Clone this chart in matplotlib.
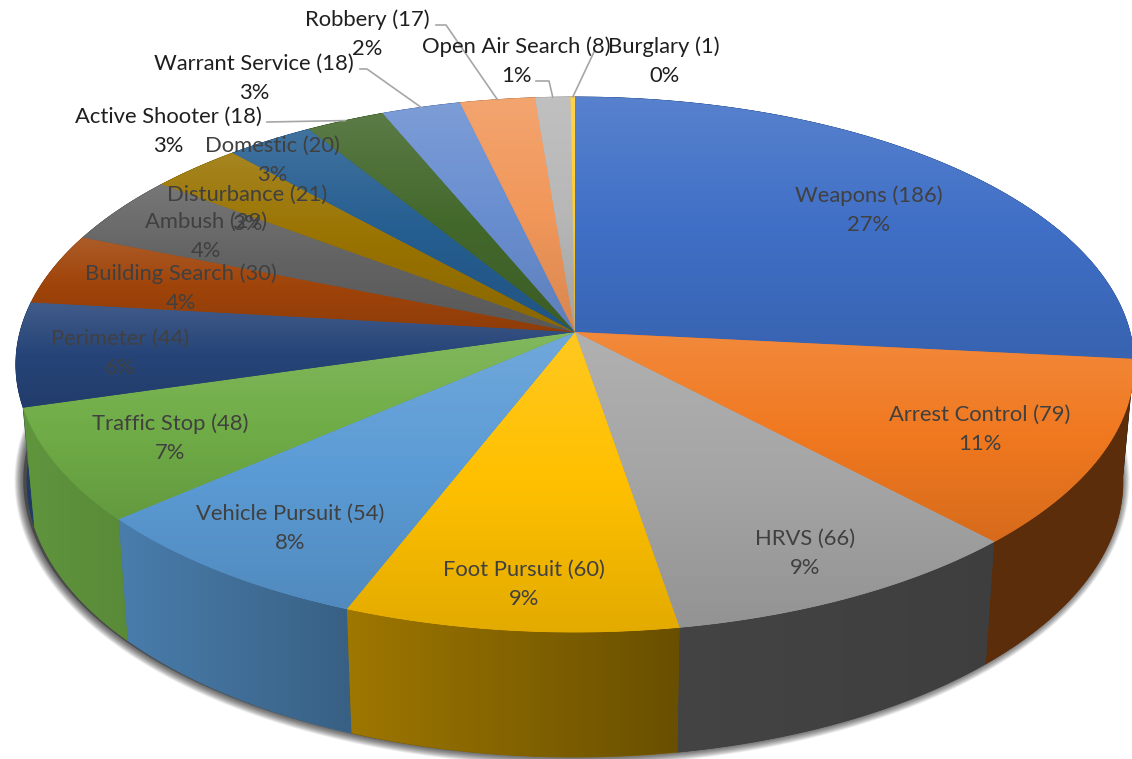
import numpy as np
import matplotlib
matplotlib.use('Agg')
import matplotlib.pyplot as plt
from matplotlib.colors import to_rgb
from matplotlib.patches import Polygon

plt.rcParams['font.family'] = ['Lato', 'DejaVu Sans']

categories = ['Weapons', 'Arrest Control', 'HRVS', 'Foot Pursuit', 'Vehicle Pursuit',
              'Traffic Stop', 'Perimeter', 'Building Search', 'Ambush', 'Disturbance',
              'Domestic', 'Active Shooter', 'Warrant Service', 'Robbery',
              'Open Air Search', 'Burglary']
counts = [186, 79, 66, 60, 54, 48, 44, 30, 29, 21, 20, 18, 18, 17, 8, 1]
colors = ['#3F6FC6', '#F0781F', '#A5A5A5', '#FFC000', '#5B9BD5', '#70AD47',
          '#264478', '#A0440A', '#636363', '#997300', '#255E91', '#43682B',
          '#698ED0', '#F1975A', '#B7B7B7', '#FFCD33']

# where each label sits, in pixels of the picture (centre x, y of first line)
label_x = [869, 980, 805, 524, 290, 170, 120, 181, 206, 247, 272, 168, 254, 367, 516, 664]
label_y = [196, 415, 539, 570, 514, 424, 339, 274, 222, 195, 146, 117, 64, 20, 47, 47]
line_gap = 29

# leader lines start next to the label and run to the rim of the slice
leader_start = {
    'Active Shooter': [(267, 122)],
    'Warrant Service': [(360, 69), (367, 69)],
    'Robbery': [(436, 25), (446, 25)],
    'Open Air Search': [(536, 81), (549, 81)],
    'Burglary': [(594, 52)],
}
outside = ['Active Shooter', 'Warrant Service', 'Robbery', 'Open Air Search', 'Burglary']

# perspective of the disc
CX, CY = 575, 332
A, B, K = 555, 263.6, 0.1215
DEPTH = 116


def project(theta, r=1.0):
    u = r * np.sin(theta)
    v = r * np.cos(theta)
    w = 1 + K * v
    return CX + A * u / w, CY - B * v / w


def project_bottom(theta):
    x, y = project(theta)
    return CX + 0.98 * (x - CX), CY + DEPTH + 1.03 * (y - CY)


def side_shade(x):
    return np.interp(x, [20, 128, 350, 680, 988, 1132], [0.86, 0.80, 0.62, 0.41, 0.38, 0.38])


def clipped_image(ax, img, points, extent, zorder):
    poly = Polygon(points, closed=True, transform=ax.transData, facecolor='none', edgecolor='none')
    ax.add_patch(poly)
    im = ax.imshow(img, extent=extent, aspect='auto', zorder=zorder, interpolation='bilinear')
    im.set_clip_path(poly)


def draw_top(ax, t0, t1, color):
    t = np.linspace(t0, t1, 120)
    xs, ys = project(t)
    xs = np.r_[CX, xs]
    ys = np.r_[CY, ys]
    pts = np.c_[xs, ys]
    base = np.array(to_rgb(color))
    ax.add_patch(Polygon(pts, closed=True, facecolor=base * 0.95, edgecolor=base * 0.95, lw=0.5, zorder=3))
    frac = np.linspace(0, 1, 200)
    mix = np.interp(frac, [0, 0.5, 1], [0.13, 0.0, -0.11])
    img = np.zeros((200, 1, 3))
    for i, m in enumerate(mix):
        img[i, 0] = base + (1 - base) * m if m > 0 else base * (1 + m)
    extent = [xs.min() - 2, xs.max() + 2, ys.max() + 1, ys.min() - 1]
    clipped_image(ax, img, pts, extent, 4)


def draw_wall(ax, t0, t1, color, zorder):
    t = np.linspace(t0, t1, 120)
    x1, y1 = project(t)
    x2, y2 = project_bottom(t)
    pts = np.r_[np.c_[x1, y1], np.c_[x2, y2][::-1]]
    base = np.array(to_rgb(color))
    left, right = pts[:, 0].min() - 1, pts[:, 0].max() + 1
    gx = np.linspace(left, right, 200)
    img = np.clip(base[None, None, :] * side_shade(gx)[None, :, None], 0, 1)
    mid = base * side_shade((left + right) / 2)
    ax.add_patch(Polygon(pts, closed=True, facecolor=mid, edgecolor=mid, lw=0.5, zorder=zorder))
    clipped_image(ax, img, pts, [left, right, pts[:, 1].max() + 1, pts[:, 1].min() - 1], zorder + 0.1)


fig = plt.figure(figsize=(11.32, 7.59), dpi=100)
ax = fig.add_axes([0, 0, 1, 1])

total = sum(counts)
edges = np.r_[0, np.cumsum(counts)] / total * 2 * np.pi

# soft shadow under the disc
t = np.linspace(0, 2 * np.pi, 360)
sx, sy = project_bottom(t)
for lw in np.linspace(14, 0.5, 30):
    ax.plot(sx - 3, sy - 1, color='black', lw=lw, alpha=0.028, zorder=1)
ax.fill(sx - 3, sy - 1, color='#4a4a4a', zorder=1)

# walls from back to front, then the top face
order = np.argsort(-np.cos((edges[:-1] + edges[1:]) / 2))
for n, i in enumerate(order):
    draw_wall(ax, edges[i], edges[i + 1], colors[i], 2 + n * 0.001)
for i in range(len(counts)):
    draw_top(ax, edges[i], edges[i + 1], colors[i])

for i, name in enumerate(categories):
    pct = '%d%%' % round(counts[i] / total * 100)
    col = '#1f1f1f' if name in outside else '#404040'
    ax.text(label_x[i], label_y[i], '%s (%d)' % (name, counts[i]), ha='center', va='center',
            fontsize=15.8, color=col, zorder=6)
    ax.text(label_x[i], label_y[i] + line_gap, pct, ha='center', va='center',
            fontsize=15.8, color=col, zorder=6)
    if name in leader_start:
        ex, ey = project((edges[i] + edges[i + 1]) / 2)
        pts = leader_start[name] + [(ex, ey)]
        ax.plot([p[0] for p in pts], [p[1] for p in pts], color='#A6A6A6', lw=1.2, zorder=5)

ax.set_xlim(0, 1132)
ax.set_ylim(759, 0)
ax.axis('off')
fig.savefig('out.png', dpi=100, facecolor='white')
